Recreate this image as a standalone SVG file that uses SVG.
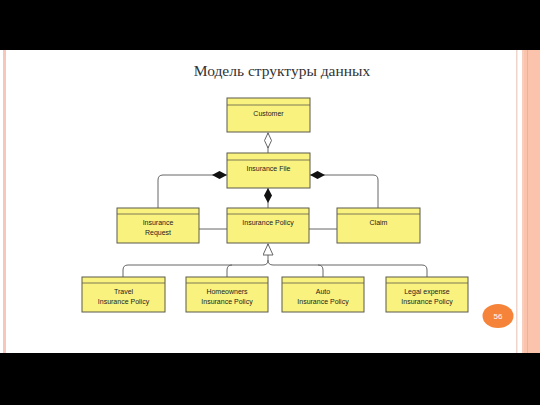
<svg xmlns="http://www.w3.org/2000/svg" width="540" height="405" viewBox="0 0 540 405">
<style>
.box{fill:#FAF27E;stroke:#5a5a4a;stroke-width:1}
.hl{stroke:#5a5a4a;stroke-width:0.8}
.lbl{font-family:"Liberation Sans",Arial,sans-serif;font-size:7px;fill:#222;text-anchor:middle}
.con{fill:none;stroke:#666;stroke-width:1}
</style>
<defs>
<marker id="odia" viewBox="0 0 16 8" refX="16" refY="4" markerWidth="16" markerHeight="8" markerUnits="userSpaceOnUse" orient="auto">
<path d="M0.5,4 L8,0.5 L15.5,4 L8,7.5 Z" fill="#fff" stroke="#555" stroke-width="0.9"/>
</marker>
<marker id="fdia" viewBox="0 0 15 8" refX="15" refY="4" markerWidth="15" markerHeight="8" markerUnits="userSpaceOnUse" orient="auto">
<path d="M0,4 L7.5,0 L15,4 L7.5,8 Z" fill="#111"/>
</marker>
<marker id="tri" viewBox="0 0 12 11" refX="12" refY="5.5" markerWidth="12" markerHeight="11" markerUnits="userSpaceOnUse" orient="auto">
<path d="M0.5,0.5 L11.5,5.5 L0.5,10.5 Z" fill="#fff" stroke="#555" stroke-width="0.9"/>
</marker>
</defs>
<rect x="0" y="0" width="540" height="405" fill="#fff"/>
<rect x="0" y="0" width="540" height="50" fill="#000"/>
<rect x="0" y="353" width="540" height="52" fill="#000"/>
<rect x="3" y="50" width="3" height="303" fill="#F6C7BA"/>
<rect x="516" y="50" width="1.5" height="303" fill="#F0D5CC"/>
<rect x="522" y="50" width="2" height="303" fill="#F7CDBE"/>
<rect x="524" y="50" width="16" height="303" fill="#FBC2AC"/>
<rect x="527" y="50" width="1" height="303" fill="#F4AE96"/>
<text x="282" y="76" font-family="'Liberation Serif','Times New Roman',serif" font-size="15.5" fill="#333" text-anchor="middle">Модель структуры данных</text>
<g id="connectors">
<path class="con" d="M268,153 L268,132.5" marker-end="url(#odia)"/>
<path class="con" d="M268,208 L268,188" marker-end="url(#fdia)"/>
<path class="con" d="M158,208 L158,180 Q158,175 163,175 L227,175" marker-end="url(#fdia)"/>
<path class="con" d="M378,208 L378,180 Q378,175 373,175 L310,175" marker-end="url(#fdia)"/>
<path class="con" d="M199,229 L227,229"/>
<path class="con" d="M309,229 L337,229"/>
<path class="con" d="M268,260 Q268,265 263,265 L128,265 Q123,265 123,270 L123,277"/>
<path class="con" d="M232,265 Q227,265 227,270 L227,277"/>
<path class="con" d="M268,260 Q268,265 273,265 L422,265 Q427,265 427,270 L427,277"/>
<path class="con" d="M318,265 Q323,265 323,270 L323,277"/>
<path class="con" d="M268,260 L268,243.5" marker-end="url(#tri)"/>
</g>
<g id="customer"><rect class="box" x="227" y="98" width="83" height="34"/><line class="hl" x1="227" y1="105" x2="310" y2="105"/><text class="lbl" x="268.5" y="115.5">Customer</text></g>
<g id="insurance-file"><rect class="box" x="227" y="153" width="83" height="35"/><line class="hl" x1="227" y1="160" x2="310" y2="160"/><text class="lbl" x="268.5" y="170.5">Insurance File</text></g>
<g id="insurance-request"><rect class="box" x="117" y="208" width="82" height="35"/><line class="hl" x1="117" y1="214" x2="199" y2="214"/><text class="lbl" x="158" y="225">Insurance</text><text class="lbl" x="158" y="235">Request</text></g>
<g id="insurance-policy"><rect class="box" x="227" y="208" width="82" height="35"/><line class="hl" x1="227" y1="214" x2="309" y2="214"/><text class="lbl" x="268" y="225">Insurance Policy</text></g>
<g id="claim"><rect class="box" x="337" y="208" width="83" height="35"/><line class="hl" x1="337" y1="214" x2="420" y2="214"/><text class="lbl" x="378.5" y="225">Claim</text></g>
<g id="travel"><rect class="box" x="82" y="277" width="83" height="35"/><line class="hl" x1="82" y1="283" x2="165" y2="283"/><text class="lbl" x="123.5" y="294">Travel</text><text class="lbl" x="123.5" y="304">Insurance Policy</text></g>
<g id="homeowners"><rect class="box" x="186" y="277" width="82" height="35"/><line class="hl" x1="186" y1="283" x2="268" y2="283"/><text class="lbl" x="227" y="294">Homeowners</text><text class="lbl" x="227" y="304">Insurance Policy</text></g>
<g id="auto"><rect class="box" x="282" y="277" width="82" height="35"/><line class="hl" x1="282" y1="283" x2="364" y2="283"/><text class="lbl" x="323" y="294">Auto</text><text class="lbl" x="323" y="304">Insurance Policy</text></g>
<g id="legal"><rect class="box" x="386" y="277" width="82" height="35"/><line class="hl" x1="386" y1="283" x2="468" y2="283"/><text class="lbl" x="427" y="294">Legal expense</text><text class="lbl" x="427" y="304">Insurance Policy</text></g>
<g id="page-number"><ellipse cx="498" cy="316" rx="15.5" ry="12" fill="#F5843A"/><text x="498" y="319" font-family="'Liberation Sans',Arial,sans-serif" font-size="8" fill="#fff" text-anchor="middle">56</text></g>
</svg>
